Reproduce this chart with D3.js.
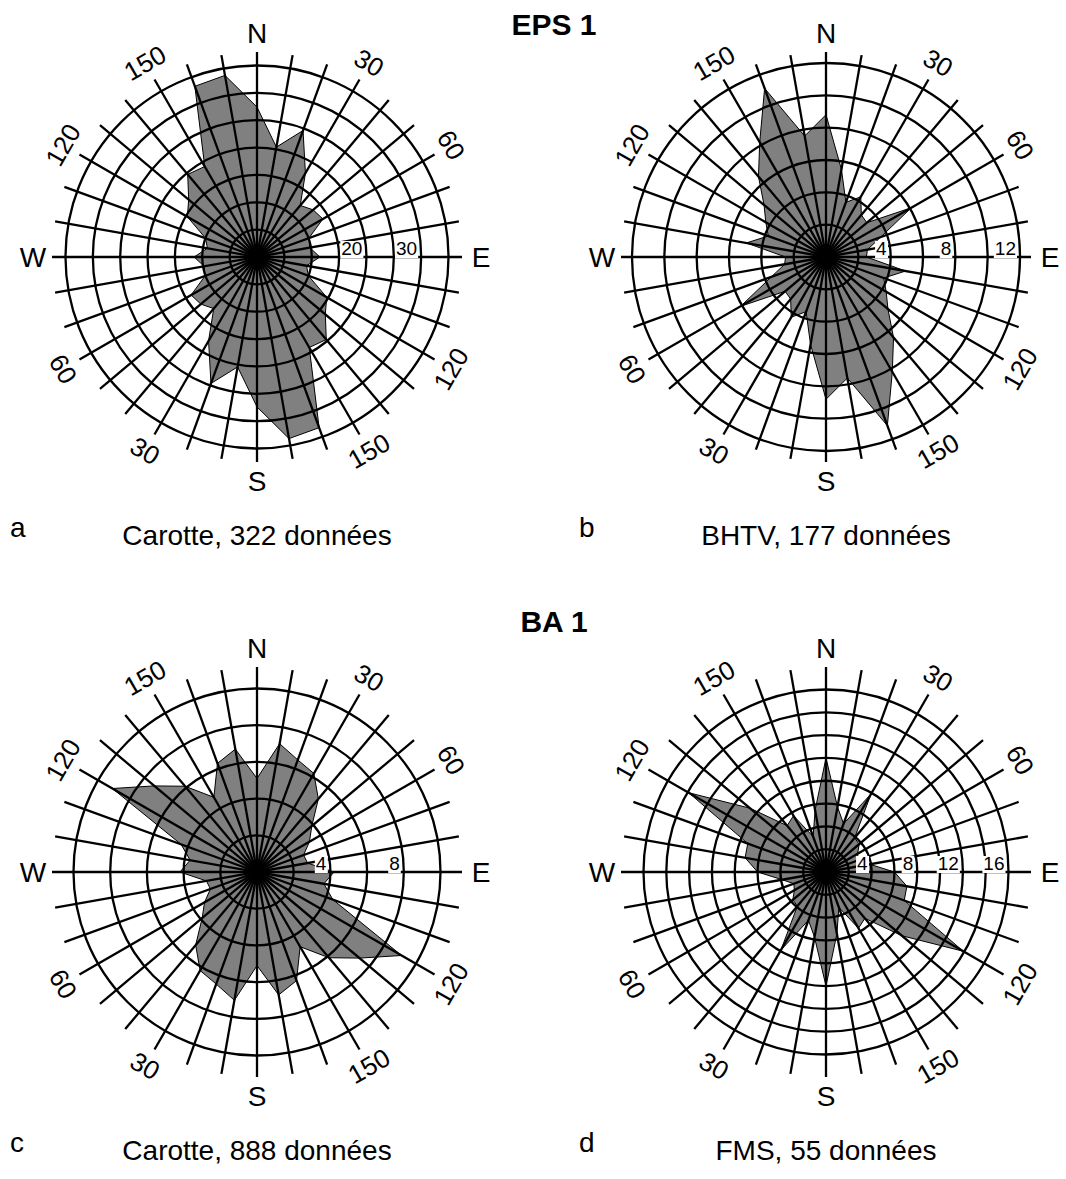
<!DOCTYPE html>
<html>
<head>
<meta charset="utf-8">
<script src="https://cdn.jsdelivr.net/npm/d3@7.9.0/dist/d3.min.js"></script>
<style>
  body { margin: 0; background: #fff; }
  svg { display: block; font-family: "Liberation Sans", Arial, Helvetica, sans-serif; }
</style>
</head>
<body>
<div id="chart"></div>
<script>
// 10 degree classes, axial data: each value is also drawn at angle + 180
const binAngles = [0, 10, 20, 30, 40, 50, 60, 70, 80, 90, 100, 110, 120, 130, 140, 150, 160, 170];

// EPS 1
const eps1Carotte = [27.4, 20.4, 24.6, 17.7, 12.3, 13.4, 13.9, 10.1, 9.8, 11.5, 9.2, 10.0, 14.7, 16.3, 19.7, 19.1, 33.2, 33.7];
const eps1Bhtv = [8.8, 5.5, 3.6, 4.3, 3.4, 3.3, 6.1, 3.6, 2.6, 2.5, 5.0, 3.8, 4.3, 5.0, 6.5, 8.2, 11.1, 7.6];
// BA 1
const ba1Carotte = [5.1, 7.1, 6.5, 6.2, 5.2, 3.9, 3.3, 2.7, 2.8, 4.2, 3.7, 4.4, 9.1, 7.3, 6.1, 4.7, 6.3, 6.8];
const ba1Fms = [10.0, 5.8, 4.5, 7.9, 3.9, 3.8, 3.2, 3.0, 3.9, 6.0, 7.2, 7.3, 13.9, 8.7, 5.3, 5.7, 3.3, 5.5];

// circles and their labels
const ringsA = [5, 10, 15, 20, 25, 30, 35], ringLabelsA = [20, 30];
const ringsB = [2, 4, 6, 8, 10, 12], ringLabelsB = [4, 8, 12];
const ringsC = [2, 4, 6, 8, 10], ringLabelsC = [4, 8];
const ringsD = [2, 4, 6, 8, 10, 12, 14, 16], ringLabelsD = [4, 8, 12, 16];

const compass = [["N", 0], ["E", 90], ["S", 180], ["W", 270]];
const degreeTicks = [30, 60, 120, 150, 210, 240, 300, 330];

const W = 1066, H = 1179;
const spokeLen = 205, labelR = 224;

const svg = d3.select("#chart").append("svg")
  .attr("width", W)
  .attr("height", H);

const roses = [
  { cx: 257, cy: 257, radius: 191.5, values: eps1Carotte, rings: ringsA, ringLabels: ringLabelsA, letter: "a", caption: "Carotte, 322 données" },
  { cx: 826, cy: 257, radius: 194, values: eps1Bhtv, rings: ringsB, ringLabels: ringLabelsB, letter: "b", caption: "BHTV, 177 données" },
  { cx: 257, cy: 872, radius: 183.5, values: ba1Carotte, rings: ringsC, ringLabels: ringLabelsC, letter: "c", caption: "Carotte, 888 données" },
  { cx: 826, cy: 872, radius: 182.5, values: ba1Fms, rings: ringsD, ringLabels: ringLabelsD, letter: "d", caption: "FMS, 55 données" }
];

const rad = d => d * Math.PI / 180;

function drawRose(cfg) {
  const g = svg.append("g").attr("transform", `translate(${cfg.cx},${cfg.cy})`);
  const r = d3.scaleLinear()
    .domain([0, d3.max(cfg.rings)])
    .range([0, cfg.radius]);

  // both ends of each axial class
  const pts = binAngles.map((a, i) => ({ a: a, v: cfg.values[i] }))
    .concat(binAngles.map((a, i) => ({ a: a + 180, v: cfg.values[i] })));

  const line = d3.lineRadial()
    .angle(d => rad(d.a))
    .radius(d => r(d.v))
    .curve(d3.curveLinearClosed);

  g.append("path")
    .datum(pts)
    .attr("d", line)
    .attr("fill", "#808080")
    .attr("stroke", "#000")
    .attr("stroke-width", 1);

  // circles
  g.selectAll("circle.ring")
    .data(cfg.rings)
    .join("circle")
    .attr("class", "ring")
    .attr("r", d => r(d))
    .attr("fill", "none")
    .attr("stroke", "#000")
    .attr("stroke-width", 2.3);

  // spokes every 10 degrees
  g.selectAll("line.spoke")
    .data(d3.range(0, 360, 10))
    .join("line")
    .attr("class", "spoke")
    .attr("x1", 0).attr("y1", 0)
    .attr("x2", d => spokeLen * Math.sin(rad(d)))
    .attr("y2", d => -spokeLen * Math.cos(rad(d)))
    .attr("stroke", "#000")
    .attr("stroke-width", 2.3);

  // ring values along the east axis
  const rl = g.selectAll("g.rlab")
    .data(cfg.ringLabels)
    .join("g")
    .attr("class", "rlab");
  const txt = rl.append("text")
    .attr("x", d => r(d) - 4)
    .attr("y", -2)
    .attr("text-anchor", "end")
    .attr("font-size", 19)
    .text(d => d);
  txt.each(function() {
    const b = this.getBBox();
    d3.select(this.parentNode).insert("rect", "text")
      .attr("x", b.x - 1).attr("y", b.y + 3)
      .attr("width", b.width + 2).attr("height", b.height - 4)
      .attr("fill", "#fff");
  });

  // compass letters
  g.selectAll("text.cmp")
    .data(compass)
    .join("text")
    .attr("class", "cmp")
    .attr("x", d => labelR * Math.sin(rad(d[1])))
    .attr("y", d => -labelR * Math.cos(rad(d[1])))
    .attr("text-anchor", "middle")
    .attr("dominant-baseline", "central")
    .attr("font-size", 28)
    .text(d => d[0]);

  // degree labels (axial: shown mod 180)
  g.selectAll("text.deg")
    .data(degreeTicks)
    .join("text")
    .attr("class", "deg")
    .attr("text-anchor", "middle")
    .attr("dominant-baseline", "central")
    .attr("font-size", 26)
    .attr("transform", d => {
      const x = labelR * Math.sin(rad(d)), y = -labelR * Math.cos(rad(d));
      const rot = (d > 90 && d < 270) ? d - 180 : d;
      return `translate(${x},${y}) rotate(${rot})`;
    })
    .text(d => d % 180);

  svg.append("text")
    .attr("x", cfg.cx - 247)
    .attr("y", cfg.cy + 280)
    .attr("font-size", 28)
    .text(cfg.letter);
  svg.append("text")
    .attr("x", cfg.cx)
    .attr("y", cfg.cy + 288)
    .attr("text-anchor", "middle")
    .attr("font-size", 28)
    .text(cfg.caption);
}

roses.forEach(drawRose);

// titles
svg.append("text")
  .attr("x", 554).attr("y", 35)
  .attr("text-anchor", "middle")
  .attr("font-size", 30).attr("font-weight", "bold")
  .text("EPS 1");
svg.append("text")
  .attr("x", 554).attr("y", 632)
  .attr("text-anchor", "middle")
  .attr("font-size", 30).attr("font-weight", "bold")
  .text("BA 1");
</script>
</body>
</html>
